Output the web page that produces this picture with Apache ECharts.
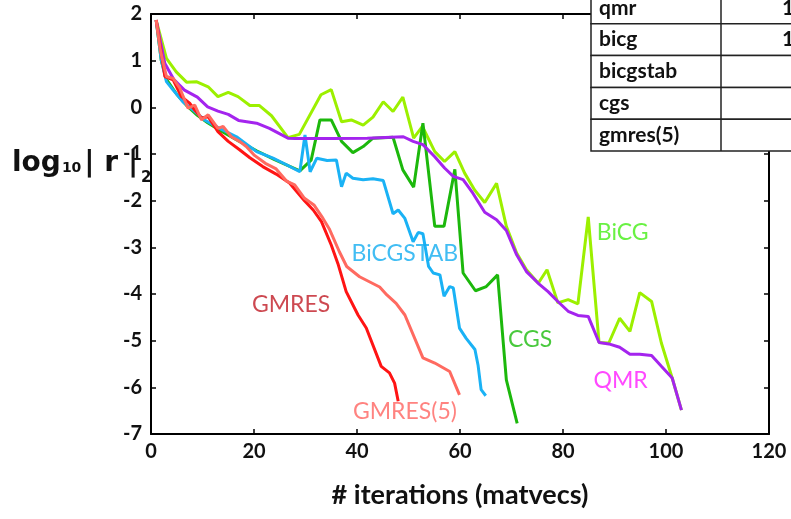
<!DOCTYPE html>
<html>
<head>
<meta charset="utf-8">
<script src="https://cdn.jsdelivr.net/npm/echarts@6/dist/echarts.min.js"></script>
<style>
  html, body { margin: 0; padding: 0; background: #fff; }
  #chart { width: 791px; height: 519px; }
</style>
</head>
<body>
<div id="chart"></div>
<script>
// residual history, [matvecs, log10 |r|_2]
const gmres = [[1,1.87],[1.7,1.37],[2.7,0.66],[4.3,0.59],[5.9,0.23],[7.5,0.09],[8.5,-0.06],[9.8,-0.23],[11.1,-0.2],[13,-0.52],[15,-0.73],[17.2,-0.91],[19.2,-1.08],[21.7,-1.27],[24.3,-1.43],[26.9,-1.62],[29.8,-2.0],[31.5,-2.2],[33.1,-2.45],[35,-2.95],[36.3,-3.35],[37.9,-3.95],[40.2,-4.45],[41.8,-4.73],[44.7,-5.55],[46.3,-5.69],[47.3,-5.91],[48,-6.3]];
const gmres5 = [[1,1.87],[1.8,1.23],[3,0.66],[4.3,0.62],[5.6,0.41],[7.2,-0.02],[8.5,0.05],[9.8,-0.27],[11.1,-0.16],[13,-0.45],[14,-0.41],[15.6,-0.63],[17.2,-0.73],[18.5,-0.84],[20.1,-1.03],[22.2,-1.2],[24.3,-1.32],[26.3,-1.58],[27.9,-1.66],[29.8,-1.95],[31.7,-2.1],[33.4,-2.38],[34.6,-2.6],[36.6,-3.1],[38,-3.41],[40.5,-3.63],[44.4,-3.85],[45.8,-4.02],[47.6,-4.2],[49.3,-4.45],[52.8,-5.37],[55.1,-5.48],[58,-5.66],[59.9,-6.16]];
const bicgstab = [[1,1.87],[2,1.01],[3,0.55],[4.3,0.37],[6.2,0.12],[8.2,-0.06],[10.4,-0.27],[13.3,-0.45],[16.6,-0.63],[20.5,-0.95],[23.7,-1.09],[26.3,-1.23],[28.9,-1.38],[29.9,-0.59],[30.9,-1.38],[32.2,-1.09],[34.2,-1.14],[36,-1.13],[37,-1.7],[37.9,-1.41],[39.2,-1.52],[41.2,-1.55],[43.1,-1.53],[45.1,-1.57],[47,-2.28],[48,-2.2],[49.3,-2.38],[50.9,-2.88],[51.9,-2.68],[52.8,-2.71],[53.9,-3.41],[54.8,-3.55],[56.1,-3.59],[56.9,-4.05],[58,-3.84],[58.7,-3.87],[59.9,-4.73],[61.2,-4.95],[62.9,-5.19],[63.5,-5.52],[64.1,-6.05],[65,-6.18]];
const cgs = [[1,1.87],[2,1.0],[3,0.6],[5,0.28],[7,0.03],[9,-0.17],[11,-0.33],[13.5,-0.5],[17,-0.72],[20.5,-0.93],[24,-1.12],[28.9,-1.36],[31.1,-1.13],[32.8,-0.27],[35,-0.27],[37,-0.73],[39.2,-0.97],[41.2,-0.84],[43.1,-0.66],[47,-0.64],[48.9,-1.34],[51,-1.71],[52.8,-0.34],[55.1,-2.55],[56.9,-2.55],[59,-1.33],[60.6,-3.55],[63,-3.93],[65.1,-3.84],[67.3,-3.59],[69,-5.84],[71.1,-6.77]];
const bicg = [[1,1.87],[3,1.05],[4.9,0.76],[6.9,0.54],[8.8,0.55],[11.1,0.44],[13,0.23],[15,0.32],[16.9,0.23],[19.2,0.04],[21,0.04],[23.4,-0.18],[26.6,-0.65],[28.8,-0.58],[33,0.27],[35,0.38],[37,-0.31],[38.9,-0.27],[41.2,-0.38],[43.1,-0.21],[45.1,0.12],[47,-0.09],[48.9,0.22],[51,-0.66],[52.7,-0.41],[55.1,-0.95],[57,-1.16],[59,-0.95],[60.9,-1.41],[62.9,-1.78],[64.8,-2.04],[67.1,-1.63],[69,-2.55],[71,-3.12],[72.9,-3.48],[75.2,-3.77],[76.9,-3.48],[79,-4.19],[81,-4.12],[82.9,-4.21],[84.9,-2.35],[87,-5.04],[88.9,-5.05],[91,-4.52],[93,-4.8],[94.9,-3.97],[97.2,-4.16],[99.1,-5.05],[101.2,-5.8],[103,-6.49]];
const qmr = [[1,1.87],[2.7,0.94],[4.4,0.6],[6.5,0.37],[9,0.22],[11,0.01],[13,-0.08],[15,-0.15],[17,-0.28],[20.5,-0.34],[23,-0.45],[26.6,-0.66],[28,-0.67],[35,-0.67],[42,-0.66],[49,-0.63],[50.9,-0.73],[52.8,-0.8],[55.1,-1.06],[57,-1.3],[58.7,-1.48],[60.6,-1.55],[62.5,-1.84],[64.8,-2.25],[67.1,-2.41],[69,-2.64],[71,-3.16],[72.9,-3.52],[75.2,-3.77],[77.1,-3.95],[79,-4.16],[81,-4.37],[82.9,-4.46],[84.9,-4.48],[87,-5.04],[88.9,-5.07],[91,-5.14],[93,-5.29],[94.9,-5.29],[97.2,-5.32],[99.1,-5.55],[101.2,-5.8],[103,-6.49]];

// table at top right (partly cut off)
const tableNames = ['qmr', 'bicg', 'bicgstab', 'cgs', 'gmres(5)'];
const tableVals = ['1', '1', '', '', ''];

const FONT = 'Lato';
const chart = echarts.init(document.getElementById('chart'));

const lineSeries = (name, data, color) => ({
  name, type: 'line', data,
  xAxisIndex: 0, yAxisIndex: 0,
  showSymbol: false, symbol: 'none',
  lineStyle: { color, width: 3 },
  z: 3
});

// curve labels, placed in data coordinates
const tags = [
  { text: 'GMRES', at: [27.2, -4.23], color: '#c01c26' },
  { text: 'BiCGSTAB', at: [49.3, -3.14], color: '#12acf0' },
  { text: 'CGS', at: [73.6, -4.98], color: '#1cbb0c' },
  { text: 'BiCG', at: [91.6, -2.69], color: '#44ee14' },
  { text: 'QMR', at: [91.2, -5.86], color: '#ff1cff' },
  { text: 'GMRES(5)', at: [49.3, -6.52], color: '#ff6460' }
];

// table graphics
const table = [];
const rowTop = -8, rowH = 31.8, tx = 591, tdiv = 721, tr = 800;
tableNames.forEach((n, i) => {
  const y = rowTop + i * rowH;
  table.push({
    type: 'rect', shape: { x: tx, y, width: tr - tx, height: rowH },
    style: { fill: '#fff', stroke: '#222', lineWidth: 1.5 }, z: 50
  });
  table.push({
    type: 'line', shape: { x1: tdiv, y1: y, x2: tdiv, y2: y + rowH },
    style: { stroke: '#222', lineWidth: 1.5 }, z: 51
  });
  table.push({
    type: 'text', x: 599, y: y + rowH / 2,
    style: { text: n, font: 'bold 21px ' + FONT, fill: '#111', verticalAlign: 'middle' }, z: 52
  });
  if (tableVals[i]) {
    table.push({
      type: 'text', x: 782, y: y + rowH / 2,
      style: { text: tableVals[i], font: 'bold 21px ' + FONT, fill: '#111', verticalAlign: 'middle' }, z: 52
    });
  }
});

const LBL = '"DejaVu Sans"';

chart.setOption({
  animation: false,
  grid: { left: 151, right: 22, top: 14, bottom: 85, show: false },
  xAxis: [
    {
      type: 'value', min: 0, max: 120, interval: 20, position: 'bottom',
      name: '# iterations (matvecs)', nameLocation: 'middle', nameGap: 48,
      nameTextStyle: { fontFamily: FONT, fontSize: 27, fontWeight: 'bold', color: '#111' },
      axisLine: { onZero: false, lineStyle: { color: '#000', width: 2 } },
      axisTick: { inside: true, length: 5, lineStyle: { color: '#000', width: 1.5 } },
      axisLabel: { fontFamily: FONT, fontSize: 20, fontWeight: 'bold', color: '#111', margin: 8 },
      splitLine: { show: false }
    },
    {
      type: 'value', min: 0, max: 120, interval: 20, position: 'top',
      axisLine: { onZero: false, lineStyle: { color: '#000', width: 2 } },
      axisTick: { inside: true, length: 5, lineStyle: { color: '#000', width: 1.5 } },
      axisLabel: { show: false }, splitLine: { show: false }
    }
  ],
  yAxis: [
    {
      type: 'value', min: -7, max: 2, interval: 1, position: 'left',
      axisLine: { onZero: false, lineStyle: { color: '#000', width: 2 } },
      axisTick: { inside: true, length: 5, lineStyle: { color: '#000', width: 1.5 } },
      axisLabel: { fontFamily: FONT, fontSize: 20, fontWeight: 'bold', color: '#111', margin: 9 },
      splitLine: { show: false }
    },
    {
      type: 'value', min: -7, max: 2, interval: 1, position: 'right',
      axisLine: { onZero: false, lineStyle: { color: '#000', width: 2 } },
      axisTick: { inside: true, length: 5, lineStyle: { color: '#000', width: 1.5 } },
      axisLabel: { show: false }, splitLine: { show: false }
    }
  ],
  series: [
    lineSeries('BiCG', bicg, '#9cf000'),
    lineSeries('CGS', cgs, '#1cb80c'),
    lineSeries('BiCGSTAB', bicgstab, '#1ab2f5'),
    lineSeries('QMR', qmr, '#a424ee'),
    lineSeries('GMRES', gmres, '#ff1414'),
    lineSeries('GMRES(5)', gmres5, '#ff6a60'),
    {
      name: 'tags', type: 'scatter', symbolSize: 0,
      data: tags.map(t => ({ value: t.at, name: t.text, label: { color: t.color } })),
      label: {
        show: true, position: 'inside', formatter: '{b}',
        fontFamily: FONT, fontSize: 23
      },
      silent: true, z: 4
    }
  ],
  graphic: [
    {
      type: 'text', left: 12, top: 150, z: 10,
      style: {
        text: '{a|log}{s|10}{a|| r |}{t|2}',
        rich: {
          a: { fontFamily: LBL, fontSize: 28, fontWeight: 'bold', fill: '#111', verticalAlign: 'bottom' },
          s: { fontFamily: LBL, fontSize: 14, fontWeight: 'bold', fill: '#111', verticalAlign: 'bottom', padding: [0, 3, 3, 1] },
          t: { fontFamily: LBL, fontSize: 15, fontWeight: 'bold', fill: '#111', verticalAlign: 'bottom', padding: [0, 0, -8, 3] }
        }
      }
    },
    ...table
  ]
});
</script>
</body>
</html>
